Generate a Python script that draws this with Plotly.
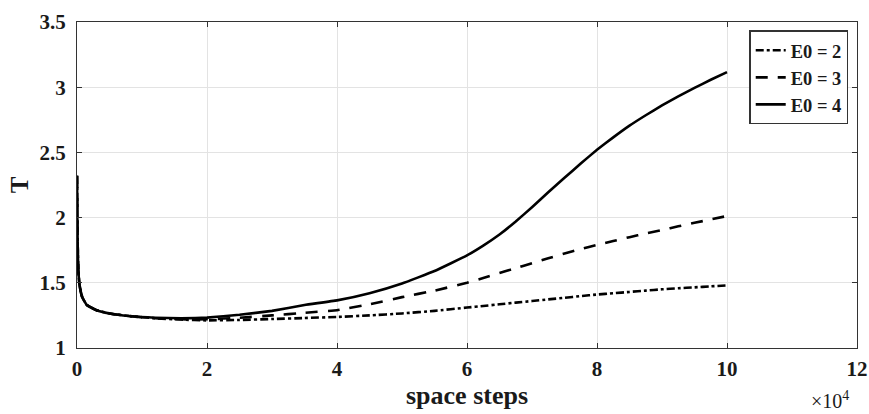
import plotly.graph_objects as go

# space steps (in units of 1e4)
x_steps = [0, 0.005, 0.01, 0.02, 0.04, 0.08, 0.15, 0.3, 0.5, 0.8, 1.2, 1.6, 2.0, 2.5, 3.0,
           3.5, 4.0, 4.5, 5.0, 5.5, 6.0, 6.25, 6.5, 6.75, 7.0, 7.25, 7.5, 7.75, 8.0, 8.25,
           8.5, 8.75, 9.0, 9.25, 9.5, 9.75, 10.0]

T_E0_2 = [2.32, 2.0, 1.8, 1.6, 1.48, 1.39, 1.33, 1.29, 1.265, 1.245, 1.228, 1.218, 1.212, 1.215, 1.222,
          1.23, 1.238, 1.25, 1.265, 1.285, 1.31, 1.322, 1.335, 1.348, 1.36, 1.373, 1.385, 1.398, 1.41, 1.42,
          1.43, 1.44, 1.45, 1.458, 1.465, 1.473, 1.48]
T_E0_3 = [2.32, 2.0, 1.8, 1.6, 1.48, 1.39, 1.33, 1.29, 1.265, 1.245, 1.228, 1.22, 1.22, 1.232, 1.25,
          1.27, 1.29, 1.335, 1.39, 1.44, 1.5, 1.537, 1.575, 1.612, 1.65, 1.688, 1.725, 1.758, 1.79, 1.82,
          1.85, 1.878, 1.905, 1.933, 1.96, 1.986, 2.012]
T_E0_4 = [2.32, 2.0, 1.8, 1.6, 1.48, 1.39, 1.33, 1.29, 1.265, 1.245, 1.232, 1.228, 1.233, 1.255, 1.285,
          1.33, 1.365, 1.42, 1.495, 1.59, 1.71, 1.785, 1.87, 1.97, 2.08, 2.195, 2.305, 2.415, 2.52, 2.615,
          2.705, 2.785, 2.86, 2.93, 2.995, 3.057, 3.116]

series_names = ["E0 = 2", "E0 = 3", "E0 = 4"]
x_tick_vals = [0, 2, 4, 6, 8, 10, 12]
y_tick_vals = [1, 1.5, 2, 2.5, 3, 3.5]
y_tick_text = ["1", "1.5", "2", "2.5", "3", "3.5"]

font_family = "Liberation Serif, Times New Roman, serif"
txt_color = "#1a1a1a"

fig = go.Figure()
dashes = ["8px,3px,3px,3px", "12px,10px", "solid"]
for name, ys, dash in zip(series_names, [T_E0_2, T_E0_3, T_E0_4], dashes):
    fig.add_trace(go.Scatter(
        x=x_steps, y=ys, mode="lines", name=name,
        line=dict(color="black", width=2.6, dash=dash, shape="spline", smoothing=0.3),
    ))

axis_common = dict(
    showgrid=True, gridcolor="#e3e3e3", gridwidth=1,
    showline=True, linecolor="#333333", linewidth=1.3, mirror="ticks",
    ticks="inside", ticklen=5, tickcolor="#333333", tickwidth=1.3,
    zeroline=False, automargin=False,
    tickfont=dict(family=font_family, size=21, color=txt_color, weight="bold"),
)

fig.update_layout(
    width=869, height=414,
    margin=dict(l=77, r=12, t=22, b=66),
    paper_bgcolor="white", plot_bgcolor="white",
    font=dict(family=font_family, color=txt_color),
    xaxis=dict(range=[0, 12], tickvals=x_tick_vals, ticklabelstandoff=2, **axis_common,
               title=dict(text="space steps",
                          font=dict(family=font_family, size=26, color=txt_color, weight="bold"),
                          standoff=0)),
    yaxis=dict(range=[1, 3.5], tickvals=y_tick_vals, ticktext=y_tick_text, ticklabelstandoff=6,
               **axis_common,
               title=dict(text="T", font=dict(family=font_family, size=25, color=txt_color, weight="bold"),
                          standoff=3)),
    legend=dict(x=0.989, y=0.974, xanchor="right", yanchor="top",
                bgcolor="white", bordercolor="#333333", borderwidth=1.3,
                font=dict(family=font_family, size=18.5, color=txt_color, weight="bold"),
                itemwidth=30, tracegroupgap=0),
    showlegend=True,
)

fig.add_annotation(text="×10<sup>4</sup>", xref="paper", yref="paper",
                   x=0.966, y=-0.16, xanchor="center", yanchor="middle", showarrow=False,
                   font=dict(family=font_family, size=20, color=txt_color))

fig.write_html("out.html", config={"displayModeBar": False},
               post_script="document.body.style.margin='0px';document.body.style.overflow='hidden';")
